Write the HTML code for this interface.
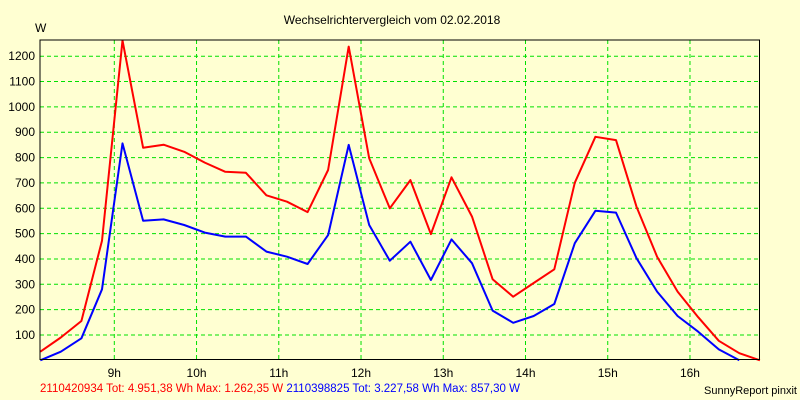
<!DOCTYPE html>
<html><head><meta charset="utf-8"><style>
html,body{margin:0;padding:0;background:#ffffd2;}
svg{display:block;font-family:"Liberation Sans",sans-serif;}
</style></head><body>
<svg id="chart" width="800" height="400">
<rect x="0" y="0" width="800" height="400" fill="#ffffd2"/>
<text x="392" y="24" font-size="12" text-anchor="middle" fill="#000">Wechselrichtervergleich vom 02.02.2018</text>
<text x="35" y="32" font-size="12" fill="#000">W</text>
<g id="grid"></g>
<g id="yticks"></g>
<g id="xticks"></g>
<g id="series"></g>
<rect x="40" y="40" width="719.5" height="319.5" fill="none" stroke="#000" stroke-width="1"/>
<text y="392" font-size="11.5"><tspan x="40" fill="#ff0000">2110420934 Tot: 4.951,38 Wh Max: 1.262,35 W</tspan><tspan fill="#0000ff"> 2110398825 Tot: 3.227,58 Wh Max: 857,30 W</tspan></text>
<text x="797" y="394" font-size="11" text-anchor="end" fill="#000">SunnyReport pinxit</text>
</svg>
<script>
const startHour = 8.1;
const stepHours = 0.25;
const redValues = [34,90,155,472,1262,839,851,823,780,744,740,651,626,585,751,1238,797,600,711,498,722,567,320,251,305,359,701,882,869,606,409,271,170,77,28,0];
const blueValues = [0,34,87,280,856,551,556,534,504,488,488,429,409,380,494,850,534,393,468,317,477,383,196,148,175,222,462,590,583,403,271,175,113,43,0];
const yTicks = [100,200,300,400,500,600,700,800,900,1000,1100,1200];
const xTicks = [9,10,11,12,13,14,15,16];
const xTickLabels = ["9h","10h","11h","12h","13h","14h","15h","16h"];

const NS = "http://www.w3.org/2000/svg";
const X0 = 40, X1 = 759.5, Y0 = 360.3, PXPER100 = 25.34;
const xH = h => 114.3 + (h - 9) * 82.24;
const y = v => Y0 - v * PXPER100 / 100;
function mk(tag, attrs, parent){const e=document.createElementNS(NS,tag);for(const k in attrs)e.setAttribute(k,attrs[k]);parent.appendChild(e);return e;}
const grid=document.getElementById('grid'), yt=document.getElementById('yticks'), xt=document.getElementById('xticks'), ser=document.getElementById('series');
yTicks.forEach(v=>{
  const l=mk('line',{x1:X0,x2:X1,y1:y(v),y2:y(v),stroke:'#00e000','stroke-dasharray':'4,3','stroke-width':1},grid);
  
  
  const t=mk('text',{x:35,y:y(v)+4,'font-size':12,'text-anchor':'end',fill:'#000'},yt);
  t.textContent=v;
  
  
});
xTicks.forEach((h,i)=>{
  const l=mk('line',{x1:xH(h),x2:xH(h),y1:X0,y2:359.5,stroke:'#00e000','stroke-dasharray':'4,3','stroke-width':1},grid);
  
  
  const t=mk('text',{x:xH(h),y:377,'font-size':12,'text-anchor':'middle',fill:'#000'},xt);
  t.textContent=xTickLabels[i];
  
  
});
function line(vals,color,name){
  const pts=vals.map((v,i)=>xH(startHour+i*stepHours).toFixed(1)+','+y(v).toFixed(1)).join(' ');
  const p=mk('polyline',{points:pts,fill:'none',stroke:color,'stroke-width':2,'stroke-linejoin':'round'},ser);
  
  
}
line(blueValues,'#0000ff','series-2110398825');
line(redValues,'#ff0000','series-2110420934');
</script>
</body></html>
